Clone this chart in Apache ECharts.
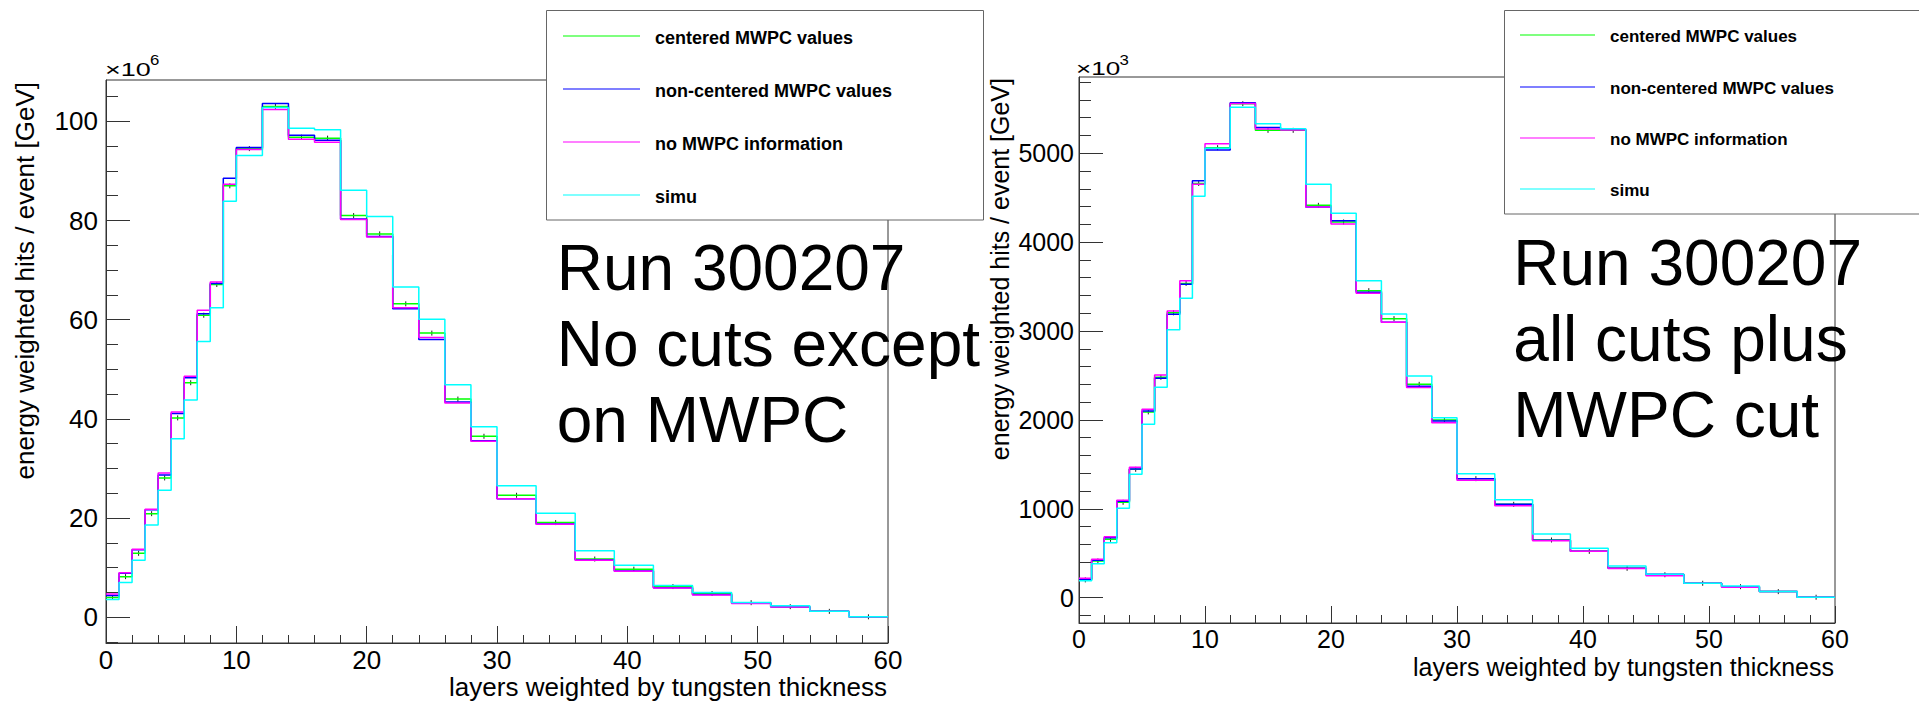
<!DOCTYPE html>
<html><head><meta charset="utf-8">
<script src="https://cdn.jsdelivr.net/npm/echarts@6/dist/echarts.min.js"></script>
<style>html,body{margin:0;padding:0;background:#fff}#c{width:1919px;height:701px}</style>
</head><body><div id="c"></div>
<script>
// ---- data ----
const binEdges = [0,1,2,3,4,5,6,7,8,9,10,12,14,16,18,20,22,24,26,28,30,33,36,39,42,45,48,51,54,57,60];
const seriesNames = ['centered MWPC values','non-centered MWPC values','no MWPC information','simu'];

// left panel (x10^6)
const leftCentered    = [4.0,8.2,12.9,20.9,28.1,40.2,47.3,60.9,67.1,87.0,94.5,103.0,96.8,96.6,81.0,77.3,63.2,57.3,44.0,36.5,24.6,19.1,11.75,9.7,6.2,4.8,2.95,2.15,1.2,0.1];
const leftNonCentered = [4.4,8.9,13.6,21.7,28.7,41.1,48.3,61.2,67.3,88.5,94.7,103.6,97.2,96.2,80.3,76.8,62.2,56.0,43.4,35.6,23.9,18.8,11.55,9.35,5.95,4.6,2.95,2.15,1.2,0.1];
const leftNoMWPC      = [4.7,9.0,13.7,21.8,29.1,41.4,48.6,61.9,67.6,87.3,94.3,102.4,96.4,95.8,80.2,76.7,62.4,56.4,43.2,35.5,23.9,18.75,11.5,9.3,5.9,4.5,2.8,2.1,1.2,0.1];
const leftSimu        = [3.6,7.0,11.5,18.6,25.6,36.0,43.8,55.6,62.4,83.9,93.1,102.8,98.6,98.3,86.1,80.8,66.6,60.1,46.9,38.4,26.5,21.0,13.4,10.5,6.4,5.0,3.0,2.35,1.2,0.1];

// right panel (x10^3)
const rightCentered    = [200,413,657,1073,1444,2090,2479,3205,3536,4660,5063,5558,5258,5258,4414,4227,3454,3139,2400,1999,1339,1050,649,521,330,258,162,124,68,5];
const rightNonCentered = [208,420,675,1084,1448,2101,2468,3188,3525,4691,5037,5569,5291,5266,4395,4242,3435,3098,2378,1988,1339,1052,645,521,330,263,162,124,68,5];
const rightNoMWPC      = [218,432,686,1096,1467,2119,2505,3225,3566,4650,5108,5561,5273,5262,4395,4204,3424,3098,2365,1969,1320,1035,641,521,327,248,162,116,68,5];
const rightSimu        = [190,383,619,1005,1388,1951,2366,3014,3368,4515,5055,5517,5333,5275,4651,4324,3566,3192,2494,2025,1395,1103,717,555,357,263,162,132,68,5];

const leftYTicks = [0,20,40,60,80,100];
const leftYMinorTicks = [-5,0,5,10,15,20,25,30,35,40,45,50,55,60,65,70,75,80,85,90,95,100,105];
const rightYTicks = [0,1000,2000,3000,4000,5000];
const rightYMinorTicks = [-200,0,200,400,600,800,1000,1200,1400,1600,1800,2000,2200,2400,2600,2800,3000,3200,3400,3600,3800,4000,4200,4400,4600,4800,5000,5200,5400,5600,5800];

const xTitle = 'layers weighted by tungsten thickness';
const yTitle = 'energy weighted hits / event [GeV]';
const leftNote = ['Run 300207','No cuts except','on MWPC'];
const rightNote = ['Run 300207','all cuts plus','MWPC cut'];
const leftExp = '6', rightExp = '3';

// ---- styles ----
const colors = ['#00ff00','#0000ff','#ff00ff','#00ffff'];
const FF = '"Liberation Sans", Arial, Helvetica, sans-serif';
const AX = '#333';

function stepData(vals){ return binEdges.map((e,i)=>[e, vals[Math.min(i, vals.length-1)]]); }
const centers = binEdges.slice(0,-1).map((e,i)=>(e+binEdges[i+1])/2);

const chart = echarts.init(document.getElementById('c'), null, {renderer:'svg'});

const panels = [
  {grid:{left:106, top:80, width:782, height:563}, ymin:-5.18, ymax:108.33, yt:leftYTicks, ym:leftYMinorTicks,
   fs:26, xMargin:17, yMargin:8, data:[leftCentered,leftNonCentered,leftNoMWPC,leftSimu]},
  {grid:{left:1079, top:77, width:756, height:546}, ymin:-285, ymax:5858, yt:rightYTicks, ym:rightYMinorTicks,
   fs:25, xMargin:16, yMargin:5, data:[rightCentered,rightNonCentered,rightNoMWPC,rightSimu]}
];

const plain = v => String(Math.round(v));
const grids=[], xAxes=[], yAxes=[], series=[];
panels.forEach((p,pi)=>{
  grids.push(Object.assign({show:true, borderColor:AX, borderWidth:1, backgroundColor:'transparent', containLabel:false}, p.grid));
  xAxes.push({type:'value', gridIndex:pi, min:0, max:60, interval:10,
    axisLine:{show:true, onZero:false, lineStyle:{color:AX, width:1}},
    axisTick:{show:true, inside:true, length:17, lineStyle:{color:AX}},
    minorTick:{show:true, splitNumber:5, length:8, lineStyle:{color:AX}},
    splitLine:{show:false}, minorSplitLine:{show:false},
    axisLabel:{fontSize:p.fs, fontFamily:FF, color:'#000', margin:p.xMargin, verticalAlign:'middle', formatter:plain}});
  yAxes.push({type:'value', gridIndex:pi, min:p.ymin, max:p.ymax, position:'left',
    axisLine:{show:true, onZero:false, lineStyle:{color:AX, width:1}},
    axisTick:{show:true, inside:true, length:24, customValues:p.yt, lineStyle:{color:AX}},
    splitLine:{show:false},
    axisLabel:{fontSize:p.fs, fontFamily:FF, color:'#000', margin:p.yMargin, customValues:p.yt, padding:[5,0,0,0], formatter:plain}});
  yAxes.push({type:'value', gridIndex:pi, min:p.ymin, max:p.ymax, position:'left',
    axisLine:{show:false, onZero:false}, splitLine:{show:false}, axisLabel:{show:false},
    axisTick:{show:true, inside:true, length:12, customValues:p.ym, lineStyle:{color:AX}}});
  p.data.forEach((vals,si)=>{
    series.push({type:'line', name:seriesNames[si], xAxisIndex:pi, yAxisIndex:pi*2, step:'end',
      symbol:'none', silent:true, lineStyle:{color:colors[si], width:1.5}, data:stepData(vals)});
  });
  series.push({type:'custom', xAxisIndex:pi, yAxisIndex:pi*2, silent:true,
    data:centers.map((c,i)=>[c, p.data[0][i]]),
    renderItem:(params, api)=>{
      const pt = api.coord([api.value(0), api.value(1)]);
      return {type:'line', shape:{x1:pt[0], y1:pt[1]-2.5, x2:pt[0], y2:pt[1]+2.5}, style:{stroke:'#222', lineWidth:1}};
    }});
});

const G = [];
function txt(x,y,text,font,opts,extra){ G.push(Object.assign({type:'text', x, y, z:100, style:Object.assign({text, font, fill:'#000', align:'left', verticalAlign:'middle'}, opts||{})}, extra||{})); }

// legends
const legends = [
  {box:[546.5,10.5,437,209.5], rows:[36,89,142,195], lx:[563,640], tx:655, fs:18},
  {box:[1504.5,10.5,430,203.5], rows:[35,87,138,189], lx:[1520,1595], tx:1610, fs:17}
];
legends.forEach(L=>{
  G.push({type:'rect', z:99, shape:{x:L.box[0], y:L.box[1], width:L.box[2], height:L.box[3]}, style:{fill:'#fff', stroke:'#666', lineWidth:1}});
  L.rows.forEach((ry,i)=>{
    G.push({type:'line', z:100, shape:{x1:L.lx[0], y1:ry, x2:L.lx[1], y2:ry}, style:{stroke:colors[i], lineWidth:1.2}});
    txt(L.tx, ry+1.5, seriesNames[i], 'bold '+L.fs+'px '+FF);
  });
});

// exponent labels
txt(105, 69.5, '\u00d710', '18px '+FF, null, {scaleX:1.5});
txt(150, 60, leftExp, '14px '+FF, null, {scaleX:1.2});
txt(1076, 68.5, '\u00d710', '18px '+FF, null, {scaleX:1.45});
txt(1119.5, 60, rightExp, '14px '+FF, null, {scaleX:1.2});

// axis titles
txt(887, 687, xTitle, '26px '+FF, {align:'right'});
txt(1834, 667, xTitle, '25px '+FF, {align:'right'});
G.push({type:'text', x:24.5, y:82, rotation:Math.PI/2, z:100, style:{text:yTitle, font:'26px '+FF, fill:'#000', align:'right', verticalAlign:'middle'}});
G.push({type:'text', x:1000, y:78, rotation:Math.PI/2, z:100, style:{text:yTitle, font:'25px '+FF, fill:'#000', align:'right', verticalAlign:'middle'}});

// run notes
leftNote.forEach((t,i)=>txt(556.7, 268.3+76*i, t, '64px '+FF));
rightNote.forEach((t,i)=>txt(1513.3, 263.3+76*i, t, '64px '+FF));

chart.setOption({
  animation:false,
  backgroundColor:'#fff',
  grid:grids, xAxis:xAxes, yAxis:yAxes, series:series,
  graphic:{elements:G}
});
</script></body></html>
